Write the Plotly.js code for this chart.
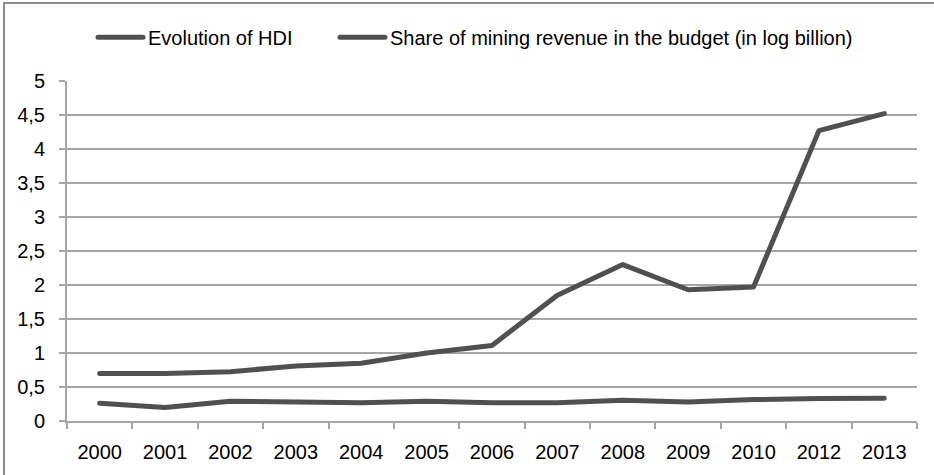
<!DOCTYPE html>
<html>
<head>
<meta charset="utf-8">
<script src="https://cdn.plot.ly/plotly-3.0.1.min.js"></script>
<style>
  html, body { margin: 0; padding: 0; background: #fff; }
  #frame { position: absolute; left: 3px; top: 2px; width: 960px; height: 500px;
           border-left: 2px solid #8c8c8c; border-top: 2px solid #8c8c8c; box-sizing: border-box; }
  #chart { position: absolute; left: 0; top: 0; width: 934px; height: 475px; }
  #chart .js-line { stroke-linecap: round !important; stroke-linejoin: round !important; }
</style>
</head>
<body>
<div id="frame"></div>
<div id="chart"></div>
<script>
const years = ['2000','2001','2002','2003','2004','2005','2006','2007','2008','2009','2010','2012','2013'];
const hdi = [0.26, 0.20, 0.29, 0.285, 0.27, 0.29, 0.267, 0.27, 0.305, 0.28, 0.315, 0.33, 0.335];
const mining = [0.70, 0.70, 0.725, 0.81, 0.85, 1.00, 1.11, 1.85, 2.30, 1.93, 1.97, 4.27, 4.52];
const yTicks = [0, 0.5, 1, 1.5, 2, 2.5, 3, 3.5, 4, 4.5, 5];
const yTickText = ['0','0,5','1','1,5','2','2,5','3','3,5','4','4,5','5'];
const seriesNames = ['Evolution of HDI', 'Share of mining revenue in the budget (in log billion)'];

const lineColor = '#505050';
const gridColor = '#a6a6a6';
const textColor = '#000';
const fontFam = 'Liberation Sans, Arial, sans-serif';

const traces = [
  { x: years, y: hdi, name: seriesNames[0], type: 'scatter', mode: 'lines',
    line: { color: lineColor, width: 5 }, legend: 'legend' },
  { x: years, y: mining, name: seriesNames[1], type: 'scatter', mode: 'lines',
    line: { color: lineColor, width: 5 }, legend: 'legend2' }
];

const legendBase = {
  orientation: 'h', xanchor: 'left', y: 1.129, yanchor: 'middle',
  font: { family: fontFam, size: 20, color: textColor },
  itemwidth: 45, bgcolor: 'rgba(0,0,0,0)', borderwidth: 0
};

const layout = {
  width: 934, height: 475,
  paper_bgcolor: 'rgba(0,0,0,0)', plot_bgcolor: 'rgba(0,0,0,0)',
  margin: { l: 67, r: 17, t: 81, b: 54 },
  font: { family: fontFam, size: 20, color: textColor },
  showlegend: true,
  legend: Object.assign({}, legendBase, { x: 0.0306 }),
  legend2: Object.assign({}, legendBase, { x: 0.3153 }),
  xaxis: {
    type: 'category', categoryorder: 'array', categoryarray: years,
    range: [-0.5, years.length - 0.5],
    showgrid: false, zeroline: false,
    showline: true, linecolor: gridColor, linewidth: 2,
    ticks: 'outside', tickson: 'boundaries', ticklen: 6, tickcolor: gridColor, tickwidth: 2,
    ticklabelstandoff: 12,
    tickfont: { family: fontFam, size: 20, color: textColor },
    fixedrange: true
  },
  yaxis: {
    range: [0, 5], tickvals: yTicks, ticktext: yTickText,
    showgrid: true, gridcolor: gridColor, gridwidth: 2,
    zeroline: false,
    showline: true, linecolor: gridColor, linewidth: 2,
    ticks: 'outside', ticklen: 6, tickcolor: gridColor, tickwidth: 2,
    ticklabelstandoff: 10,
    tickfont: { family: fontFam, size: 20, color: textColor },
    fixedrange: true
  }
};

Plotly.newPlot('chart', traces, layout, { staticPlot: true, displayModeBar: false });
</script>
</body>
</html>
